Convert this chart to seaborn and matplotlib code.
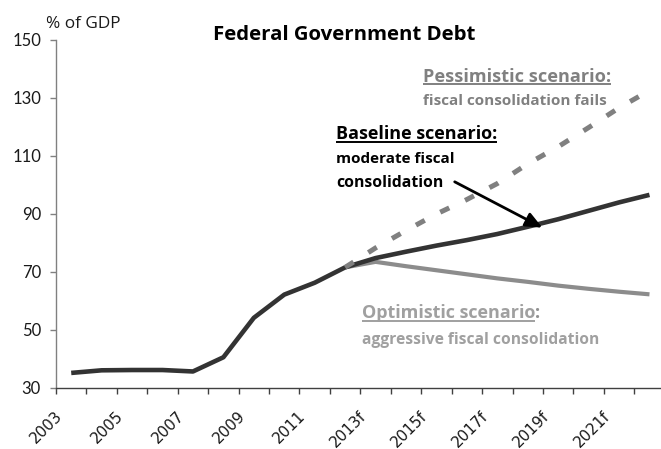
import matplotlib
matplotlib.use("Agg")
import matplotlib.pyplot as plt
from matplotlib.lines import Line2D
from matplotlib.transforms import ScaledTranslation
import numpy as np
import pandas as pd
import seaborn as sns

# Category labels (2013 onward are projections)
years = ["2003", "2004", "2005", "2006", "2007", "2008", "2009", "2010", "2011", "2012",
         "2013f", "2014f", "2015f", "2016f", "2017f", "2018f", "2019f", "2020f", "2021f", "2022f"]

# Federal debt, % of GDP
history = [35.2, 36.1, 36.2, 36.2, 35.7, 40.6, 54.2, 62.2, 66.3, 71.6]          # 2003-2012
baseline = [74.8, 77.0, 79.1, 81.0, 83.1, 85.6, 88.2, 91.1, 94.0, 96.6]         # 2013f-2022f
optimistic = [73.5, 72.0, 70.6, 69.2, 67.8, 66.6, 65.3, 64.2, 63.2, 62.3]       # 2013f-2022f
pessimistic = [78.3, 84.3, 90.0, 95.0, 100.5, 107.3, 113.2, 119.8, 126.6, 132.6]  # 2013f-2022f

y_ticks = [30, 50, 70, 90, 110, 130, 150]

sns.set_theme(style="white")
plt.rcParams["font.family"] = ["Open Sans", "DejaVu Sans"]

W, H = 661, 449
fig = plt.figure(figsize=(W / 100, H / 100), dpi=100)
ax = fig.add_axes([56 / W, 61 / H, 608.7 / W, 348 / H])

n_hist = len(history)
idx = np.arange(len(years))
base_df = pd.DataFrame({"idx": idx, "debt": history + baseline})
opt_df = pd.DataFrame({"idx": idx[n_hist - 1:], "debt": [history[-1]] + optimistic})
pes_df = pd.DataFrame({"idx": idx[n_hist - 1:], "debt": [history[-1]] + pessimistic})

sns.lineplot(data=opt_df, x="idx", y="debt", ax=ax, color="#8c8c8c", lw=3.0,
             solid_capstyle="butt")
sns.lineplot(data=base_df, x="idx", y="debt", ax=ax, color="#333333", lw=3.3,
             solid_capstyle="butt")
sns.lineplot(data=pes_df, x="idx", y="debt", ax=ax, color="#808080", lw=3.6,
             linestyle=(0, (2.0, 3.5)), dash_capstyle="butt")

ax.set_xlabel("")
ax.set_ylabel("")
ax.set_xlim(-0.5, len(years) - 0.5)
ax.set_ylim(30, 150)
ax.set_yticks(y_ticks)
ax.set_yticklabels([str(v) for v in y_ticks])
ax.grid(False)
sns.despine(ax=ax)
ax.spines["left"].set_color("#808080")
ax.spines["bottom"].set_color("#404040")
ax.spines["left"].set_linewidth(1.0)
ax.spines["bottom"].set_linewidth(1.0)

# x axis: labels on every other category, tick marks on category boundaries
ax.set_xticks(idx[::2])
ax.set_xticklabels(years[::2], rotation=45, ha="right", va="top",
                   fontfamily="DejaVu Sans", fontsize=11, color="#1a1a1a")
ax.set_xticks(np.arange(-0.5, len(years), 1.0), minor=True)
ax.tick_params(axis="x", which="major", length=0, pad=14.5)
ax.tick_params(axis="x", which="minor", length=4.3, width=1.0, color="#404040",
               direction="out", bottom=True)
ax.tick_params(axis="y", length=4.3, width=1.0, color="#808080", direction="out",
               left=True, labelsize=12, pad=6.5, labelcolor="#1a1a1a")
ax.tick_params(axis="y", labelfontfamily="Lato")
shift = ScaledTranslation(-0.06, 0, fig.dpi_scale_trans)
for lab in ax.get_xticklabels():
    lab.set_transform(lab.get_transform() + shift)


def fpos(x, y):
    return x / W, 1 - y / H


grey_dark = "#808080"
grey_light = "#a0a0a0"

# (text, left x px, baseline y px, width px, weight, colour)
captions = [
    ("Federal Government Debt", 213, 40, 262, "bold", "black"),
    ("% of GDP", 46, 28.3, 75, "normal", "#1a1a1a"),
    ("Pessimistic scenario:", 423, 81.5, 187, "bold", grey_dark),
    ("fiscal consolidation fails", 423, 105, 183, "bold", grey_dark),
    ("Baseline scenario:", 336, 139.3, 162, "bold", "black"),
    ("moderate fiscal", 336, 163.3, 118, "bold", "black"),
    ("consolidation", 336, 187.3, 106, "bold", "black"),
    ("Optimistic scenario", 362, 318.3, 174, "bold", grey_light),
    ("aggressive fiscal consolidation", 362, 344, 236, "bold", grey_light),
]
texts = []
for s, x, y, w, weight, col in captions:
    texts.append(fig.text(*fpos(x, y), s, ha="left", va="baseline", fontsize=12,
                          fontweight=weight, color=col))

# Arrow from the baseline caption to the baseline path
ax.annotate("", xy=(15.48, 85.3), xytext=(12.6, 101.1),
            arrowprops=dict(arrowstyle="-|>,head_length=0.5,head_width=0.22",
                            mutation_scale=20, lw=2.0, color="black",
                            shrinkA=0, shrinkB=0))

fig.canvas.draw()
renderer = fig.canvas.get_renderer()

# size each caption to its column width
for t, (s, x, y, w, weight, col) in zip(texts, captions):
    cur = t.get_window_extent(renderer).width
    t.set_fontsize(t.get_fontsize() * w / cur)


def underline(t, base_y, color, gap=2.3, lw=1.4):
    bb = t.get_window_extent(renderer)
    y = (H - base_y - gap) / H
    fig.add_artist(Line2D([bb.x0 / W, bb.x1 / W], [y, y], transform=fig.transFigure,
                          color=color, lw=lw, solid_capstyle="butt"))
    return bb


underline(texts[2], 81.5, grey_dark)
underline(texts[4], 139.3, "black")
bb = underline(texts[7], 318.3, grey_light)
fig.text(bb.x1 / W, 1 - 318.3 / H, ":", ha="left", va="baseline",
         fontsize=texts[7].get_fontsize(), fontweight="bold", color="#909090")

fig.savefig("out.png", dpi=100)
